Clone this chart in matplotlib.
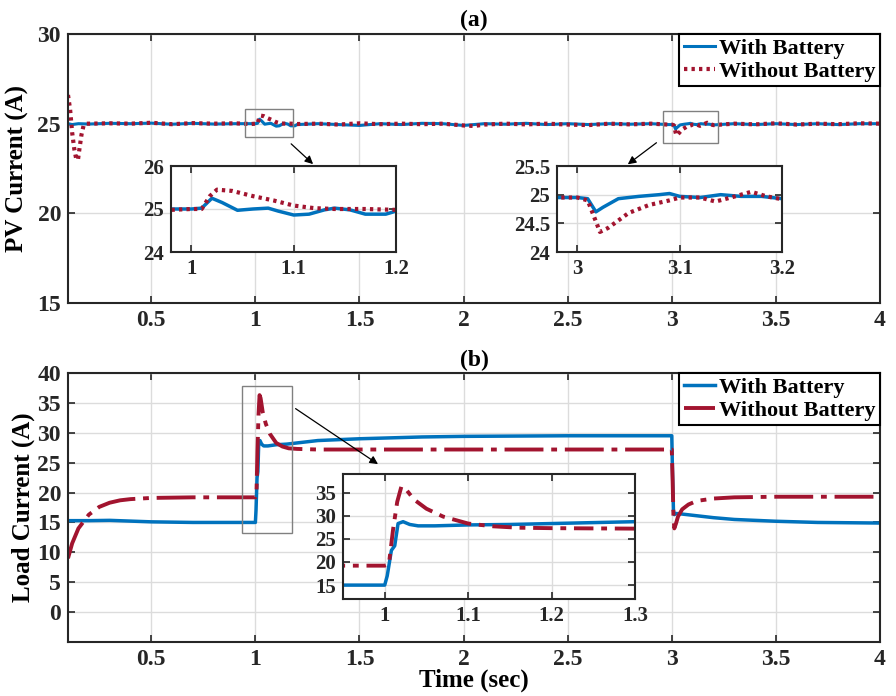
import matplotlib
matplotlib.use("Agg")
import matplotlib.pyplot as plt
from matplotlib.patches import Rectangle

plt.rcParams['font.family'] = ['Liberation Serif', 'DejaVu Serif']
plt.rcParams['font.weight'] = 'bold'

# ---------------- data: (a) PV current ----------------
t_pv_wb = [0.1, 0.12, 0.15, 0.2, 0.3, 0.4, 0.5, 0.6, 0.7, 0.8, 0.9, 0.98, 1.0, 1.01, 1.02, 1.03,
           1.045, 1.06, 1.075, 1.085, 1.1, 1.115, 1.13, 1.14, 1.155, 1.17, 1.19, 1.2, 1.3, 1.4,
           1.5, 1.6, 1.7, 1.8, 1.9, 2.0, 2.1, 2.2, 2.3, 2.4, 2.5, 2.6, 2.7, 2.8, 2.9, 2.98, 3.0,
           3.01, 3.018, 3.025, 3.04, 3.06, 3.08, 3.09, 3.1, 3.12, 3.14, 3.16, 3.18, 3.2, 3.3,
           3.4, 3.5, 3.6, 3.7, 3.8, 3.9, 4.0]
i_pv_wb = [25.0, 24.95, 25.0, 24.98, 25.02, 25.0, 25.03, 24.97, 25.02, 24.98, 25.0, 25.0, 25.0,
           25.02, 25.25, 25.15, 24.97, 25.0, 25.02, 24.95, 24.86, 24.88, 24.98, 25.02, 24.98,
           24.88, 24.88, 24.95, 25.0, 24.95, 24.9, 25.0, 24.95, 25.02, 25.0, 24.9, 25.0, 24.97,
           25.02, 24.95, 25.0, 24.95, 25.0, 24.97, 25.0, 24.95, 24.95, 24.93, 24.7, 24.78, 24.93,
           24.97, 25.0, 25.02, 24.97, 24.95, 25.0, 24.97, 24.97, 24.93, 25.0, 24.95, 25.0, 24.95,
           25.0, 24.95, 25.0, 25.0]

t_pv_nb = [0.1, 0.11, 0.12, 0.13, 0.14, 0.148, 0.155, 0.165, 0.175, 0.19, 0.2, 0.3, 0.4, 0.5,
           0.6, 0.7, 0.8, 0.9, 0.98, 1.0, 1.01, 1.018, 1.025, 1.04, 1.06, 1.08, 1.1, 1.12, 1.14,
           1.17, 1.2, 1.3, 1.4, 1.5, 1.6, 1.7, 1.8, 1.9, 2.0, 2.05, 2.1, 2.2, 2.3, 2.4, 2.5, 2.6,
           2.7, 2.8, 2.9, 2.98, 3.0, 3.01, 3.022, 3.03, 3.05, 3.07, 3.09, 3.1, 3.12, 3.135, 3.15,
           3.17, 3.185, 3.2, 3.3, 3.4, 3.5, 3.6, 3.7, 3.8, 3.9, 4.0]
i_pv_nb = [26.6, 25.8, 24.5, 23.6, 23.0, 23.0, 23.6, 24.4, 24.9, 25.0, 25.0, 25.02, 25.0, 25.05,
           24.97, 25.03, 25.0, 25.02, 24.98, 25.0, 25.0, 25.3, 25.45, 25.42, 25.3, 25.2, 25.08,
           25.02, 25.0, 25.0, 24.98, 25.0, 24.95, 25.02, 24.97, 25.0, 24.97, 25.0, 24.9, 24.87,
           24.95, 25.0, 24.96, 25.0, 24.95, 24.92, 25.0, 24.96, 25.0, 24.95, 24.95, 24.9, 24.35,
           24.42, 24.68, 24.82, 24.9, 24.95, 24.95, 24.88, 24.95, 25.05, 24.97, 24.92, 25.0,
           24.96, 25.02, 24.95, 25.0, 24.97, 25.02, 25.0]

# ---------------- data: (b) Load current ----------------
t_ld_wb = [0.1, 0.2, 0.3, 0.5, 0.7, 0.95, 1.0, 1.003, 1.008, 1.012, 1.016, 1.022, 1.03, 1.04,
           1.06, 1.08, 1.1, 1.15, 1.2, 1.25, 1.3, 1.5, 1.8, 2.0, 2.5, 3.0, 3.003, 3.008, 3.012,
           3.02, 3.05, 3.1, 3.2, 3.3, 3.5, 3.7, 4.0]
i_ld_wb = [15.3, 15.3, 15.35, 15.1, 15.0, 15.0, 15.0, 17.0, 22.5, 23.5, 28.3, 28.7, 28.1, 27.8,
           27.8, 27.9, 28.0, 28.1, 28.3, 28.5, 28.7, 29.0, 29.3, 29.4, 29.5, 29.5, 24.0, 17.0,
           16.3, 16.5, 16.4, 16.2, 15.8, 15.5, 15.2, 15.0, 14.9]

t_ld_nb = [0.1, 0.12, 0.15, 0.2, 0.25, 0.3, 0.35, 0.4, 0.5, 0.7, 1.0, 1.005, 1.01, 1.015, 1.02,
           1.025, 1.035, 1.05, 1.07, 1.09, 1.1, 1.13, 1.16, 1.2, 1.3, 2.0, 3.0, 3.004, 3.008,
           3.012, 3.02, 3.03, 3.05, 3.08, 3.12, 3.2, 3.3, 3.5, 4.0]
i_ld_nb = [9.0, 11.5, 14.0, 16.3, 17.6, 18.3, 18.7, 18.9, 19.1, 19.2, 19.2, 19.5, 27.0, 33.0,
           36.3, 35.8, 33.5, 31.5, 29.8, 28.8, 28.3, 27.7, 27.4, 27.3, 27.2, 27.2, 27.2, 22.0,
           16.0, 14.0, 14.8, 16.0, 17.2, 18.0, 18.6, 19.0, 19.2, 19.3, 19.3]

labels = ["With Battery", "Without Battery"]
xticks_main = [0.5, 1, 1.5, 2, 2.5, 3, 3.5, 4]

BLUE = '#0072BD'
RED = '#A2142F'
SPINE = '#262626'
W, H = 896, 696

fig = plt.figure(figsize=(W / 100, H / 100), dpi=100)


def fr(x0, y0, x1, y1):
    return [x0 / W, 1 - y1 / H, (x1 - x0) / W, (y1 - y0) / H]


def style(ax, fs):
    for s in ax.spines.values():
        s.set_linewidth(1.5)
        s.set_color(SPINE)
    ax.tick_params(direction='in', length=5, width=1.2, top=True, right=True,
                   labelsize=fs, colors=SPINE, pad=5)
    ax.grid(True, color='#dcdcdc', linewidth=1.0)
    ax.set_axisbelow(True)
    for lab in ax.get_xticklabels() + ax.get_yticklabels():
        lab.set_fontweight('bold')


# ---------- (a) ----------
axa = fig.add_axes(fr(68, 34, 880, 303))
axa.plot(t_pv_wb, i_pv_wb, color=BLUE, lw=2.2, label=labels[0])
axa.plot(t_pv_nb, i_pv_nb, color=RED, lw=3, dashes=(0.8, 1.0), label=labels[1])
axa.set_xlim(0.1, 4)
axa.set_ylim(15, 30)
axa.set_xticks(xticks_main)
axa.set_xticklabels(['0.5', '1', '1.5', '2', '2.5', '3', '3.5', '4'])
axa.set_yticks([15, 20, 25, 30])
style(axa, 17)
axa.set_title('(a)', fontsize=17, fontweight='bold', pad=6)
axa.set_ylabel('PV Current (A)', fontsize=18, fontweight='bold', labelpad=6)
leg = axa.legend(loc='upper right', bbox_to_anchor=(1, 1), borderaxespad=0, fancybox=False,
                 framealpha=1, edgecolor='black', fontsize=16, handlelength=1.4,
                 handletextpad=0.2, labelspacing=0.1, borderpad=0.2)
leg.get_frame().set_linewidth(1.5)
for txt in leg.get_texts():
    txt.set_fontweight('bold')

axa.add_patch(Rectangle((0.95, 24.25), 0.23, 1.55, fill=False, ec='#808080', lw=1.0, zorder=5))
axa.add_patch(Rectangle((2.96, 23.9), 0.26, 1.8, fill=False, ec='#808080', lw=1.0, zorder=5))
axa.annotate('', xy=(1.287, 22.64), xytext=(1.162, 23.98),
             arrowprops=dict(arrowstyle='-|>', color='black', lw=0.9, mutation_scale=12))
axa.annotate('', xy=(2.778, 22.64), xytext=(2.937, 24.03),
             arrowprops=dict(arrowstyle='-|>', color='black', lw=0.9, mutation_scale=12))

# inset a1
ia1 = fig.add_axes(fr(171, 166, 396, 252))
ia1.plot(t_pv_wb, i_pv_wb, color=BLUE, lw=2.5)
ia1.plot(t_pv_nb, i_pv_nb, color=RED, lw=3, dashes=(0.8, 1.0))
ia1.set_xlim(0.98, 1.2)
ia1.set_ylim(24, 26)
ia1.set_xticks([1, 1.1, 1.2])
ia1.set_xticklabels(['1', '1.1', '1.2'])
ia1.set_yticks([24, 25, 26])
style(ia1, 15)

# inset a2
ia2 = fig.add_axes(fr(557, 166, 782, 252))
ia2.plot(t_pv_wb, i_pv_wb, color=BLUE, lw=2.5)
ia2.plot(t_pv_nb, i_pv_nb, color=RED, lw=3, dashes=(0.8, 1.0))
ia2.set_xlim(2.98, 3.2)
ia2.set_ylim(24, 25.5)
ia2.set_xticks([3, 3.1, 3.2])
ia2.set_xticklabels(['3', '3.1', '3.2'])
ia2.set_yticks([24, 24.5, 25, 25.5])
ia2.set_yticklabels(['24', '24.5', '25', '25.5'])
style(ia2, 15)

# ---------- (b) ----------
axb = fig.add_axes(fr(68, 373, 880, 642))
axb.plot(t_ld_wb, i_ld_wb, color=BLUE, lw=2.5, label=labels[0])
axb.plot(t_ld_nb, i_ld_nb, color=RED, lw=2.8, dashes=(10, 2, 1.5, 2), label=labels[1])
axb.set_xlim(0.1, 4)
axb.set_ylim(-5, 40)
axb.set_xticks(xticks_main)
axb.set_xticklabels(['0.5', '1', '1.5', '2', '2.5', '3', '3.5', '4'])
axb.set_yticks([0, 5, 10, 15, 20, 25, 30, 35, 40])
style(axb, 17)
axb.set_title('(b)', fontsize=17, fontweight='bold', pad=5)
axb.set_ylabel('Load Current (A)', fontsize=18, fontweight='bold', labelpad=2)
axb.set_xlabel('Time (sec)', fontsize=18, fontweight='bold', labelpad=-1)
legb = axb.legend(loc='upper right', bbox_to_anchor=(1, 1), borderaxespad=0, fancybox=False,
                  framealpha=1, edgecolor='black', fontsize=16, handlelength=1.4,
                  handletextpad=0.2, labelspacing=0.1, borderpad=0.2)
legb.get_frame().set_linewidth(1.5)
for txt in legb.get_texts():
    txt.set_fontweight('bold')

axb.add_patch(Rectangle((0.937, 13.3), 0.24, 24.5, fill=False, ec='#808080', lw=1.0, zorder=5))
axb.annotate('', xy=(1.6, 24.5), xytext=(1.182, 34.3),
             arrowprops=dict(arrowstyle='-|>', color='black', lw=0.9, mutation_scale=12))

ib = fig.add_axes(fr(343, 474, 635, 599))
ib.plot(t_ld_wb, i_ld_wb, color=BLUE, lw=2.5)
ib.plot(t_ld_nb, i_ld_nb, color=RED, lw=2.8, dashes=(5, 2, 1.5, 2))
ib.set_xlim(0.95, 1.3)
ib.set_ylim(12, 39)
ib.set_xticks([1, 1.1, 1.2, 1.3])
ib.set_xticklabels(['1', '1.1', '1.2', '1.3'])
ib.set_yticks([15, 20, 25, 30, 35])
style(ib, 15)

fig.savefig('out.png', dpi=100)
